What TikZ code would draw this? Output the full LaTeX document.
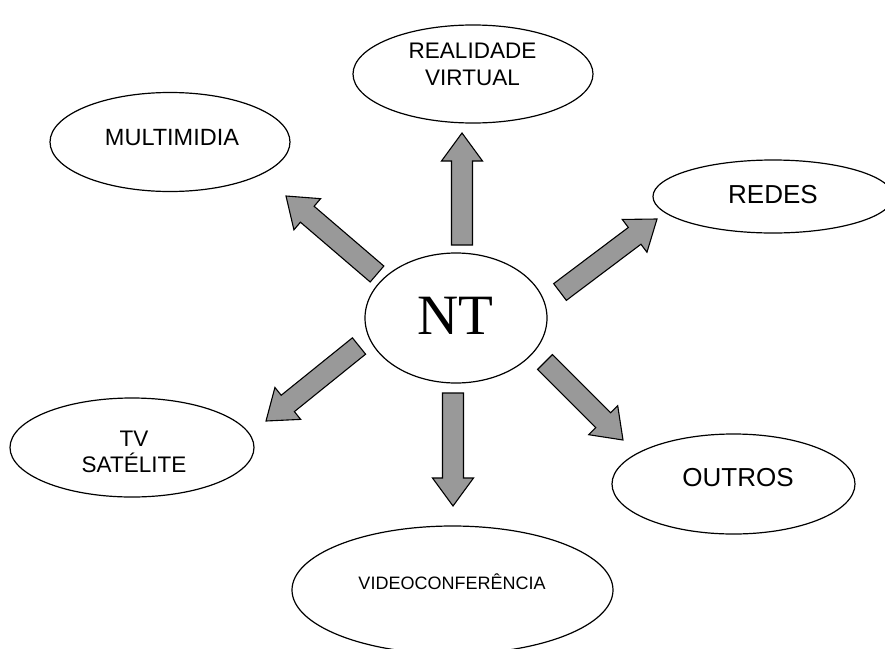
\documentclass[tikz,border=0pt]{standalone}
\usepackage{fontspec}
\setmainfont{Liberation Sans}
\newfontfamily\serifnt{Liberation Serif}
\usetikzlibrary{shapes.geometric,calc}
\definecolor{arrgray}{RGB}{153,153,153}
\tikzset{
  oval/.style={ellipse, draw=black, line width=1.2pt, fill=white, inner sep=0pt},
  lbl/.style={align=center, inner sep=0pt, text=black},
  blk/.style={draw=black, line width=1.1pt, fill=arrgray, line join=miter},
}
\newcommand\blockarr[3]{%
  \coordinate (#1h) at ($(#3)!28pt!(#2)$);
  \draw[blk] ($(#2)!10.5pt!90:(#3)$) -- ($(#1h)!10.5pt!-90:(#2)$) -- ($(#1h)!20.5pt!-90:(#2)$) -- (#3)
    -- ($(#1h)!20.5pt!90:(#2)$) -- ($(#1h)!10.5pt!90:(#2)$) -- ($(#2)!10.5pt!-90:(#3)$) -- cycle;}
\begin{document}
\begin{tikzpicture}[x=1pt,y=-1pt]
\useasboundingbox (0,0) rectangle (885,648);
% ellipses
\node[oval, minimum width=182pt, minimum height=130pt] (nt) at (456,318) {};
\node[oval, minimum width=240pt, minimum height=98pt] (rv) at (473,74) {};
\node[oval, minimum width=240pt, minimum height=99pt] (mm) at (170,142) {};
\node[oval, minimum width=240pt, minimum height=73pt] (rd) at (773,196.5) {};
\node[oval, minimum width=244pt, minimum height=99pt] (tv) at (132,447.5) {};
\node[oval, minimum width=243pt, minimum height=100pt] (ou) at (733.5,484) {};
\node[oval, minimum width=321pt, minimum height=128pt] (vc) at (452.5,590) {};
% labels
\node[lbl, font=\serifnt\fontsize{57}{60}\selectfont] (ntt) at (455.5,316) {NT};
\node[lbl, font=\fontsize{22.5}{27}\selectfont] (rvt) at (472.5,64.5) {REALIDADE\\VIRTUAL};
\node[lbl, font=\fontsize{23.5}{27}\selectfont] (mmt) at (172,138) {MULTIMIDIA};
\node[lbl, font=\fontsize{26}{30}\selectfont] (rdt) at (773,194.5) {REDES};
\node[lbl, font=\fontsize{22.5}{26.5}\selectfont] (tvt) at (134,452) {TV\\SATÉLITE};
\node[lbl, font=\fontsize{26}{30}\selectfont] (out) at (738,477.5) {OUTROS};
\node[lbl, font=\fontsize{18}{22}\selectfont] (vct) at (452,582) {VIDEOCONFERÊNCIA};
% arrow ends
\coordinate (aUt) at (462,245); \coordinate (aUh) at (462,133);
\coordinate (aULt) at (377,274); \coordinate (aULh) at (286,196);
\coordinate (aURt) at (560,292); \coordinate (aURh) at (657,219);
\coordinate (aLLt) at (359,346); \coordinate (aLLh) at (266,421);
\coordinate (aDt) at (453,393); \coordinate (aDh) at (453,506);
\coordinate (aLRt) at (545,362); \coordinate (aLRh) at (623,440);
\blockarr{u}{aUt}{aUh}
\blockarr{ul}{aULt}{aULh}
\blockarr{ur}{aURt}{aURh}
\blockarr{ll}{aLLt}{aLLh}
\blockarr{d}{aDt}{aDh}
\blockarr{lr}{aLRt}{aLRh}
\end{tikzpicture}
\end{document}
